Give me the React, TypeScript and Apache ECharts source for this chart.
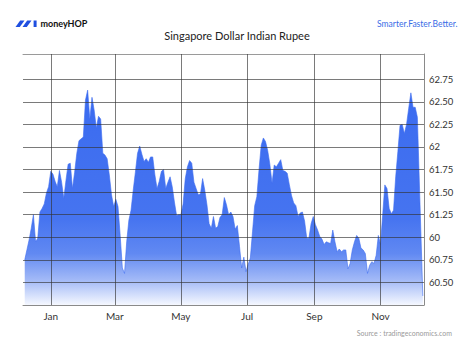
import React, { useEffect, useRef } from 'react';
import * as echarts from 'echarts';

const DAY = 86400000;
const seriesStart = '2022-12-08';
const stepDays = 2;
const rateValues = [
  60.75, 60.86, 60.97, 61.10, 61.25, 60.95, 60.99, 61.28, 61.32, 61.37,
  61.49, 61.56, 61.73, 61.70, 61.62, 61.56, 61.74, 61.61, 61.43, 61.63,
  61.81, 61.82, 61.54, 61.72, 61.93, 62.07, 62.09, 62.11, 62.52, 62.63,
  62.31, 62.55, 62.41, 62.21, 62.34, 62.31, 61.93, 61.91, 61.87, 61.69,
  61.47, 61.34, 61.42, 61.34, 61.02, 60.66, 60.60, 60.95, 61.19, 61.30,
  61.52, 61.72, 61.93, 62.01, 61.92, 61.84, 61.87, 61.83, 61.89, 61.89,
  61.69, 61.54, 61.62, 61.73, 61.75, 61.54, 61.61, 61.67, 61.56, 61.39,
  61.24, 61.25, 61.25, 61.37, 61.65, 61.78, 61.85, 61.82, 61.61, 61.54,
  61.47, 61.48, 61.65, 61.52, 61.36, 61.15, 61.10, 61.23, 61.10, 61.12,
  61.22, 61.25, 61.44, 61.36, 61.25, 61.28, 61.23, 61.09, 61.13, 60.90,
  60.66, 60.78, 60.62, 60.70, 60.77, 61.06, 61.35, 61.45, 61.75, 62.02,
  62.10, 62.06, 61.96, 61.81, 61.60, 61.80, 61.78, 61.82, 61.86, 61.74,
  61.73, 61.71, 61.58, 61.46, 61.38, 61.35, 61.23, 61.27, 61.28, 61.18,
  60.99, 60.99, 61.15, 61.23, 61.14, 61.08, 61.01, 60.98, 60.92, 60.95,
  60.94, 60.93, 61.08, 60.95, 60.84, 60.87, 60.84, 60.86, 60.86, 60.65,
  60.71, 60.86, 60.95, 61.02, 60.99, 60.88, 60.86, 60.82, 60.60, 60.69,
  60.73, 60.71, 60.80, 61.02, 60.92, 61.25, 61.58, 61.54, 61.32, 61.26,
  61.30, 61.67, 61.95, 62.24, 62.25, 62.15, 62.25, 62.43, 62.60, 62.44,
  62.44, 62.33,
];
const tailDate = '2023-12-10';
const tailValue = 60.35;

const monthTickDates = ['2023-01-01', '2023-03-01', '2023-05-01', '2023-07-01', '2023-09-01', '2023-11-01'];
const monthTickLabels = ['Jan', 'Mar', 'May', 'Jul', 'Sep', 'Nov'];
const yTickValues = [62.75, 62.5, 62.25, 62, 61.75, 61.5, 61.25, 61, 60.75, 60.5];
const yTickLabels = ['62.75', '62.50', '62.25', '62', '61.75', '61.50', '61.25', '60', '60.75', '60.50'];

const FONT = 'Lato, "Noto Sans", sans-serif';

export default function App() {
  const ref = useRef<HTMLDivElement>(null);
  useEffect(() => {
    if (!ref.current) return;
    const chart = echarts.init(ref.current, undefined, { renderer: 'svg' });
    const start = Date.parse(seriesStart);
    const data: [number, number][] = rateValues.map((v, i) => [start + i * stepDays * DAY, v]);
    data.push([Date.parse(tailDate), tailValue]);
    const jan1 = Date.parse(monthTickDates[0]);
    const xMin = jan1 - 25.6 * DAY;
    const xMax = jan1 + 344.1 * DAY;
    const gridLine = 'rgba(50,50,50,0.65)';

    const markData: any[] = [];
    monthTickDates.forEach((d, i) => {
      markData.push({
        xAxis: Date.parse(d),
        label: { show: true, formatter: monthTickLabels[i], position: 'start', distance: 6, fontSize: 10, color: '#333', fontFamily: FONT },
      });
    });
    yTickValues.forEach((v, i) => {
      markData.push({
        yAxis: v,
        label: { show: true, formatter: yTickLabels[i], position: 'end', distance: 5, fontSize: 9.5, color: '#333', fontFamily: FONT },
      });
    });

    chart.setOption({
      animation: false,
      grid: { left: 23, right: 50, top: 54, bottom: 50 },
      xAxis: [
        {
          type: 'time', min: xMin, max: xMax, position: 'bottom',
          axisLine: { show: true, lineStyle: { color: '#8a8a8a', width: 1 } },
          axisTick: { show: false }, axisLabel: { show: false }, splitLine: { show: false },
        },
        {
          type: 'time', min: xMin, max: xMax, position: 'top',
          axisLine: { show: true, lineStyle: { color: '#9a9a9a', width: 1 } },
          axisTick: { show: false }, axisLabel: { show: false }, splitLine: { show: false },
        },
      ],
      yAxis: {
        type: 'value', min: 60.25, max: 63.03, position: 'right',
        axisLine: { show: true, lineStyle: { color: '#8a8a8a', width: 1 } },
        axisTick: { show: false }, axisLabel: { show: false }, splitLine: { show: false },
      },
      graphic: [
        { type: 'polygon', z: 10, shape: { points: [[15.5, 27], [19.8, 27], [24.5, 20.5], [20.2, 20.5]] }, style: { fill: '#1f4fe0' } },
        { type: 'polygon', z: 10, shape: { points: [[22.5, 27], [26.8, 27], [31.5, 20.5], [27.2, 20.5]] }, style: { fill: '#1f4fe0' } },
        { type: 'rect', z: 10, shape: { x: 33.6, y: 20.5, width: 3, height: 6.5 }, style: { fill: '#1f4fe0' } },
        { type: 'text', z: 10, x: 40.5, y: 23.8, style: { text: 'moneyHOP', fill: '#111', font: `bold 9px ${FONT}`, align: 'left', verticalAlign: 'middle', textAlign: 'left', textVerticalAlign: 'middle' } },
        { type: 'text', z: 10, x: 457.5, y: 23.8, style: { text: 'Smarter.Faster.Better.', fill: '#3a6ce6', font: `8.5px ${FONT}`, align: 'right', verticalAlign: 'middle', textAlign: 'right', textVerticalAlign: 'middle' } },
        { type: 'text', z: 10, x: 237, y: 35.8, style: { text: 'Singapore Dollar Indian Rupee', fill: '#222', font: `11px ${FONT}`, align: 'center', verticalAlign: 'middle', textAlign: 'center', textVerticalAlign: 'middle' } },
        { type: 'text', z: 10, x: 452, y: 333.3, style: { text: 'Source : tradingeconomics.com', fill: '#9a9a9a', font: `7px ${FONT}`, align: 'right', verticalAlign: 'middle', textAlign: 'right', textVerticalAlign: 'middle' } },
      ],
      series: [
        {
          type: 'line',
          data,
          symbol: 'none',
          showSymbol: false,
          lineStyle: { width: 0.6, color: '#3d6cf0' },
          areaStyle: {
            color: new echarts.graphic.LinearGradient(0, 0, 0, 1, [
              { offset: 0, color: '#3a6bf0' },
              { offset: 0.6, color: '#4674f0' },
              { offset: 0.76, color: '#6189f2' },
              { offset: 0.89, color: '#a6bcf7' },
              { offset: 1, color: '#f5f8ff' },
            ]),
            opacity: 1,
          },
          markLine: {
            silent: true,
            symbol: ['none', 'none'],
            animation: false,
            lineStyle: { color: gridLine, width: 1, type: 'solid' },
            emphasis: { disabled: true },
            data: markData,
          },
        },
      ],
    });
    return () => chart.dispose();
  }, []);
  return <div ref={ref} style={{ position: 'fixed', left: 0, top: 0, width: 474, height: 355, background: '#fff' }} />;
}
